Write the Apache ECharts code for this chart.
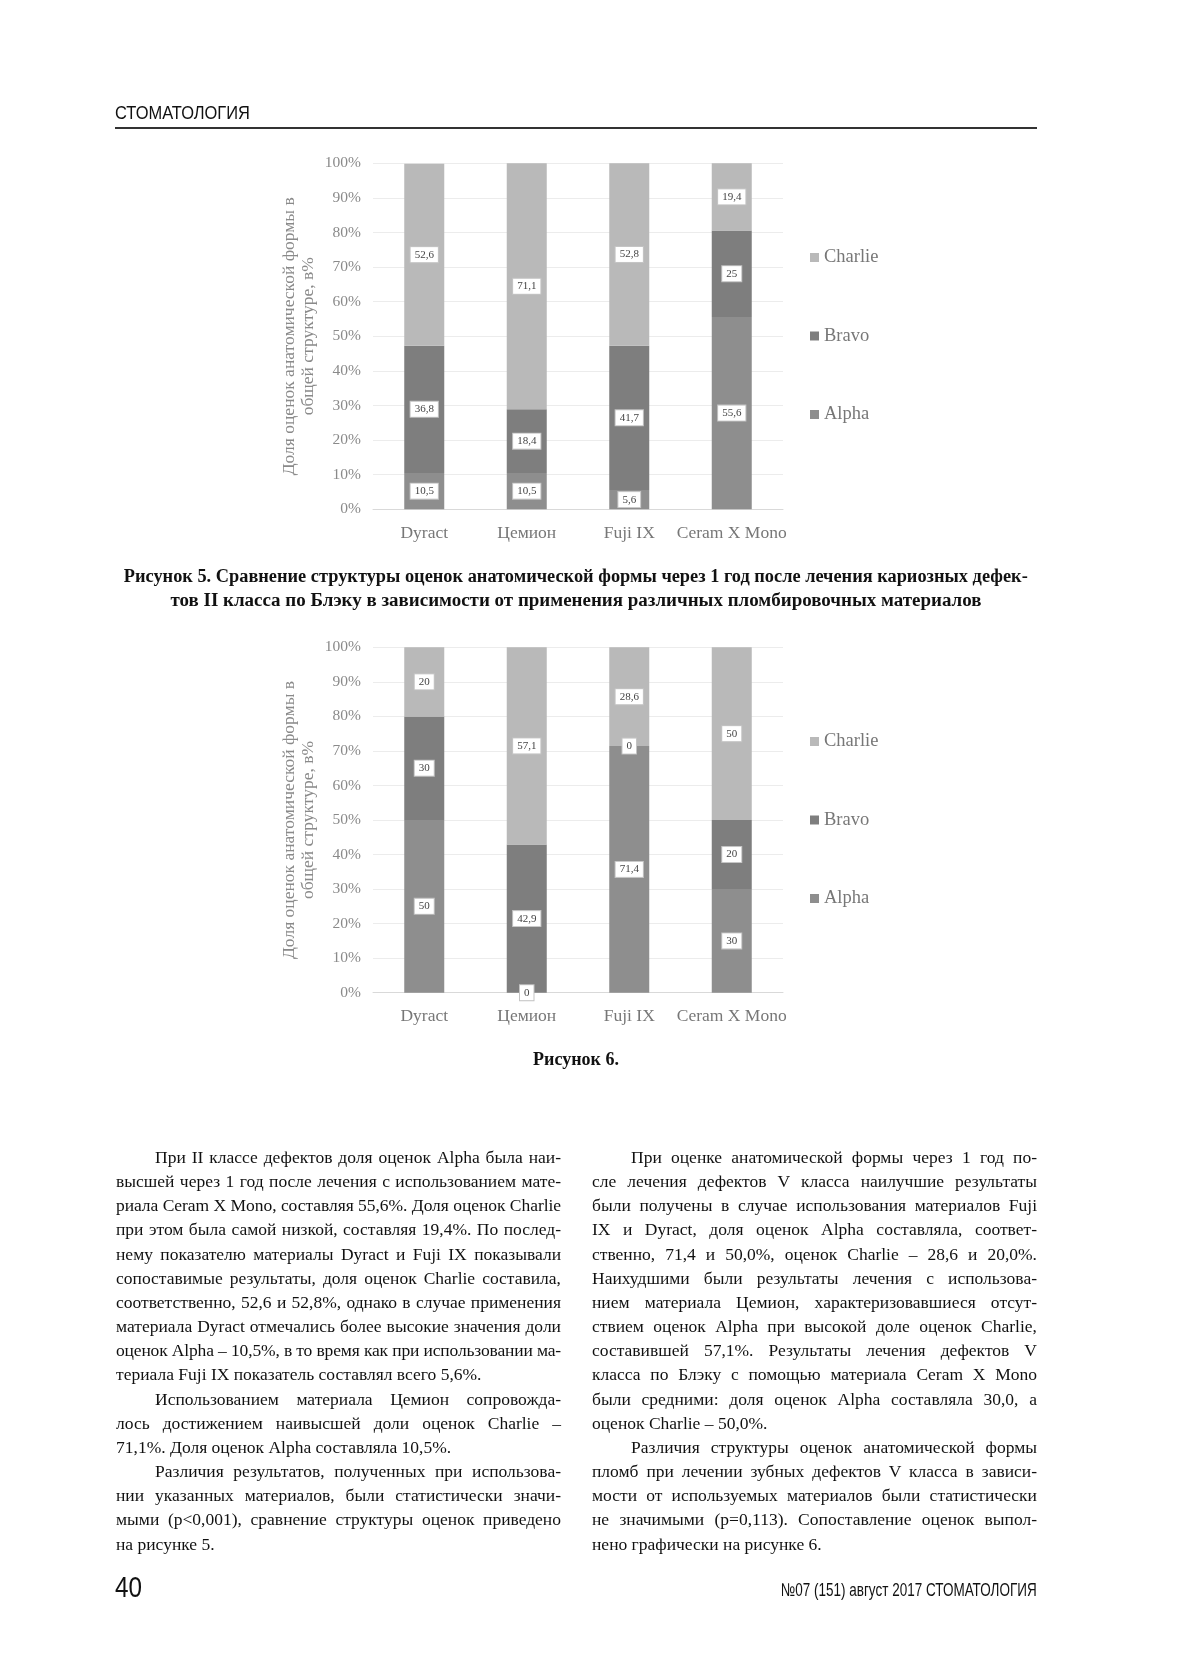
<!DOCTYPE html>
<html><head><meta charset="utf-8">
<script src="https://cdn.jsdelivr.net/npm/echarts@6/dist/echarts.min.js"></script>
<style>
html,body{margin:0;padding:0;background:#fff;}
#page{position:relative;width:1181px;height:1671px;overflow:hidden;background:#fff;}
#chart{position:absolute;left:0;top:0;width:1181px;height:1671px;}
.abs{position:absolute;}
.hdr{font-family:"Liberation Sans",Arial,sans-serif;color:#111;white-space:nowrap;}
.fit{display:inline-block;white-space:nowrap;}
.cap{font-family:"Liberation Serif",serif;font-weight:bold;color:#111;text-align:center;font-size:18px;line-height:24px;}
.cap div{height:24px;}
.col{font-family:"Liberation Serif",serif;color:#111;font-size:17.5px;line-height:24.15px;width:445px;}
.col div{text-align:justify;text-align-last:justify;white-space:nowrap;}
.col div.last{text-align:left;text-align-last:left;}
.col div.ind{text-indent:39px;}
</style></head>
<body><div id="page">
<div id="chart"></div>
<div class="abs hdr" style="left:115px;top:101px;font-size:19px;line-height:24px;"><span class="fit" data-w="135" style="transform-origin:left center;">СТОМАТОЛОГИЯ</span></div>
<div class="abs" style="left:115px;top:127px;width:922px;height:2px;background:#333;"></div>
<div class="abs cap" style="left:115px;top:564px;width:922px;">
<div><span class="fit" data-w="904" style="transform-origin:center center;">Рисунок 5. Сравнение структуры оценок анатомической формы через 1 год после лечения кариозных дефек-</span></div>
<div><span class="fit" data-w="811" style="transform-origin:center center;">тов II класса по Блэку в зависимости от применения различных пломбировочных материалов</span></div>
</div>
<div class="abs cap" style="left:115px;top:1047px;width:922px;">Рисунок 6.</div>
<div class="abs col" style="left:116px;top:1145px;">
<div class="ind">При II классе дефектов доля оценок Alpha была наи-</div>
<div>высшей через 1 год после лечения с использованием мате-</div>
<div>риала Ceram X Mono, составляя 55,6%. Доля оценок Charlie</div>
<div>при этом была самой низкой, составляя 19,4%. По послед-</div>
<div>нему показателю материалы Dyract и Fuji IX показывали</div>
<div>сопоставимые результаты, доля оценок Charlie составила,</div>
<div>соответственно, 52,6 и 52,8%, однако в случае применения</div>
<div>материала Dyract отмечались более высокие значения доли</div>
<div>оценок Alpha – 10,5%, в то время как при использовании ма-</div>
<div class="last">териала Fuji IX показатель составлял всего 5,6%.</div>
<div class="ind">Использованием материала Цемион сопровожда-</div>
<div>лось достижением наивысшей доли оценок Charlie –</div>
<div class="last">71,1%. Доля оценок Alpha составляла 10,5%.</div>
<div class="ind">Различия результатов, полученных при использова-</div>
<div>нии указанных материалов, были статистически значи-</div>
<div>мыми (p&lt;0,001), сравнение структуры оценок приведено</div>
<div class="last">на рисунке 5.</div>
</div>
<div class="abs col" style="left:592px;top:1145px;">
<div class="ind">При оценке анатомической формы через 1 год по-</div>
<div>сле лечения дефектов V класса наилучшие результаты</div>
<div>были получены в случае использования материалов Fuji</div>
<div>IX и Dyract, доля оценок Alpha составляла, соответ-</div>
<div>ственно, 71,4 и 50,0%, оценок Charlie – 28,6 и 20,0%.</div>
<div>Наихудшими были результаты лечения с использова-</div>
<div>нием материала Цемион, характеризовавшиеся отсут-</div>
<div>ствием оценок Alpha при высокой доле оценок Charlie,</div>
<div>составившей 57,1%. Результаты лечения дефектов V</div>
<div>класса по Блэку с помощью материала Ceram X Mono</div>
<div>были средними: доля оценок Alpha составляла 30,0, а</div>
<div class="last">оценок Charlie – 50,0%.</div>
<div class="ind">Различия структуры оценок анатомической формы</div>
<div>пломб при лечении зубных дефектов V класса в зависи-</div>
<div>мости от используемых материалов были статистически</div>
<div>не значимыми (p=0,113). Сопоставление оценок выпол-</div>
<div class="last">нено графически на рисунке 6.</div>
</div>
<div class="abs hdr" style="left:115px;top:1569px;font-size:30px;line-height:36px;"><span class="fit" data-w="27" style="transform-origin:left center;">40</span></div>
<div class="abs hdr" style="left:600px;width:437px;text-align:right;top:1578px;font-size:18.5px;line-height:24px;"><span class="fit" data-w="256" style="transform-origin:right center;">№07 (151) август 2017 СТОМАТОЛОГИЯ</span></div>
</div>
<script>
// fit narrow/condensed typography to the measured widths of the reference
document.querySelectorAll('.fit').forEach(el => {
  const w = el.getBoundingClientRect().width;
  const t = parseFloat(el.dataset.w);
  if (w > 0) el.style.transform = 'scaleX(' + (t / w) + ')';
});
// compress body lines that would not fit the column
(function () {
  const c = document.createElement('canvas').getContext('2d');
  c.font = '17.5px "Liberation Serif"';
  document.querySelectorAll('.col div').forEach(d => {
    const txt = d.textContent;
    const w = c.measureText(txt).width + (d.classList.contains('ind') ? 39 : 0);
    if (w > 444) d.style.letterSpacing = (-(w - 444) / txt.length).toFixed(3) + 'px';
  });
})();

const categories = ['Dyract', 'Цемион', 'Fuji IX', 'Ceram X Mono'];
const legendOrder = ['Charlie', 'Bravo', 'Alpha'];
const fig5Alpha = [10.5, 10.5, 5.6, 55.6];
const fig5Bravo = [36.8, 18.4, 41.7, 25];
const fig5Charlie = [52.6, 71.1, 52.8, 19.4];
const fig6Alpha = [50, 0, 71.4, 30];
const fig6Bravo = [30, 42.9, 0, 20];
const fig6Charlie = [20, 57.1, 28.6, 50];
const axisTitle = 'Доля оценок анатомической формы в\nобщей структуре, в%';

const colors = {Alpha: '#8e8e8e', Bravo: '#7e7e7e', Charlie: '#b9b9b9'};
const SERIF = '"Liberation Serif", "DejaVu Serif", serif';

const grids = [
  {left: 373, top: 163.3, width: 410, height: 346},
  {left: 373, top: 647.3, width: 410, height: 345.4}
];

function xAx(i) {
  return {
    type: 'category', gridIndex: i, data: categories,
    axisLine: {lineStyle: {color: '#d9d9d9'}}, axisTick: {show: false},
    axisLabel: {interval: 0, fontFamily: SERIF, fontSize: 17.5, color: '#777', margin: 15}
  };
}
function yAx(i) {
  return {
    type: 'value', gridIndex: i, min: 0, max: 100, interval: 10,
    name: axisTitle, nameLocation: 'middle', nameGap: 55,
    nameTextStyle: {fontFamily: SERIF, fontSize: 17.5, color: '#8a8a8a', lineHeight: 19},
    axisLine: {show: false}, axisTick: {show: false},
    splitLine: {lineStyle: {color: '#ececec'}},
    axisLabel: {formatter: '{value}%', fontFamily: SERIF, fontSize: 15.5, color: '#8a8a8a', margin: 12}
  };
}
function mk(name, data, i) {
  return {
    name: name, type: 'bar', stack: 'fig' + i, xAxisIndex: i, yAxisIndex: i,
    barWidth: 40, data: data,
    itemStyle: {color: colors[name]},
    label: {
      show: true, position: 'inside',
      formatter: p => String(p.value).replace('.', ','),
      backgroundColor: '#fff', borderColor: '#c4c4c4', borderWidth: 1,
      padding: [2, 4], fontSize: 11, fontFamily: SERIF, color: '#444'
    }
  };
}
function legend(top) {
  return {
    orient: 'vertical', left: 805, top: top, itemGap: 59.5,
    itemWidth: 9, itemHeight: 9, icon: 'rect', data: legendOrder,
    textStyle: {fontFamily: SERIF, fontSize: 18.5, color: '#777'}
  };
}

const chart = echarts.init(document.getElementById('chart'), null, {renderer: 'canvas'});
chart.setOption({
  animation: false,
  backgroundColor: '#fff',
  grid: grids,
  xAxis: [xAx(0), xAx(1)],
  yAxis: [yAx(0), yAx(1)],
  legend: [legend(243), legend(727)],
  series: [
    mk('Alpha', fig5Alpha, 0), mk('Bravo', fig5Bravo, 0), mk('Charlie', fig5Charlie, 0),
    mk('Alpha', fig6Alpha, 1), mk('Bravo', fig6Bravo, 1), mk('Charlie', fig6Charlie, 1)
  ]
});
</script>
</body></html>
